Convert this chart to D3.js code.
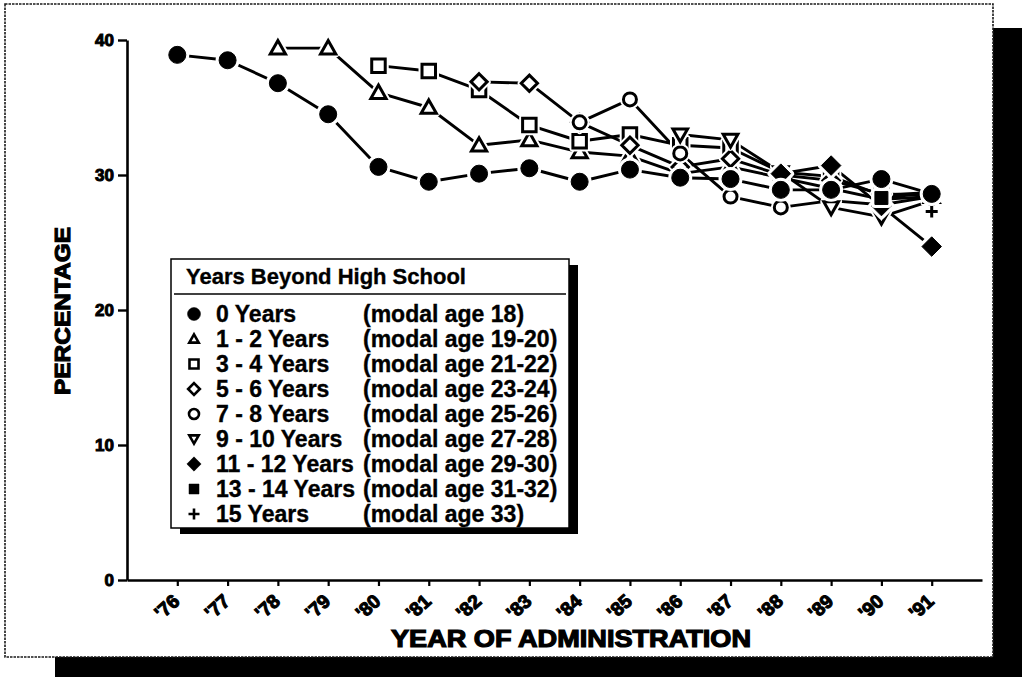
<!DOCTYPE html>
<html>
<head>
<meta charset="utf-8">
<script src="https://cdn.jsdelivr.net/npm/d3@7/dist/d3.min.js"></script>
<style>
  body { margin: 0; background: #fff; }
  svg { display: block; }
  .heavy { font-family: "Liberation Sans", Arial, sans-serif; font-weight: bold; fill: #000; stroke: #000; paint-order: stroke; }
  .legend text { font-family: "Liberation Sans", Arial, sans-serif; font-weight: bold; fill: #000; stroke: #000; stroke-width: 0.35; }
</style>
</head>
<body>
<svg id="chart" width="1022" height="677"></svg>
<script>
// ---- data -------------------------------------------------------------
const years = [1976, 1977, 1978, 1979, 1980, 1981, 1982, 1983, 1984, 1985, 1986, 1987, 1988, 1989, 1990, 1991];
const yearLabels = ["'76", "'77", "'78", "'79", "'80", "'81", "'82", "'83", "'84", "'85", "'86", "'87", "'88", "'89", "'90", "'91"];
const yTicks = [0, 10, 20, 30, 40];

const seriesNames = ["0 Years", "1 - 2 Years", "3 - 4 Years", "5 - 6 Years", "7 - 8 Years",
                     "9 - 10 Years", "11 - 12 Years", "13 - 14 Years", "15 Years"];
const modalAges = ["(modal age 18)", "(modal age 19-20)", "(modal age 21-22)", "(modal age 23-24)",
                   "(modal age 25-26)", "(modal age 27-28)", "(modal age 29-30)", "(modal age 31-32)",
                   "(modal age 33)"];
const firstYears = [1976, 1978, 1980, 1982, 1984, 1986, 1988, 1990, 1991];

// percentages, one per year from each series' first year through 1991
const zeroYears             = [38.9, 38.5, 36.8, 34.5, 30.6, 29.5, 30.1, 30.5, 29.5, 30.4, 29.8, 29.7, 28.9, 28.9, 29.7, 28.6];
const oneTwoYears           = [39.4, 39.4, 36.1, 35.0, 32.2, 32.6, 31.7, 31.4, 30.1, 30.6, 29.8, 29.0, 28.2, 28.4];
const threeFourYears        = [38.1, 37.7, 36.3, 33.7, 32.5, 33.0, 32.2, 32.0, 30.2, 29.9, 28.5, 28.7];
const fiveSixYears          = [36.9, 36.8, 33.9, 32.2, 30.6, 31.2, 30.0, 29.6, 28.6, 28.5];
const sevenEightYears       = [33.9, 35.6, 31.6, 28.4, 27.6, 28.1, 27.8, 28.4];
const nineTenYears          = [33.0, 32.6, 30.2, 27.6, 26.9, 28.1];
const elevenTwelveYears     = [30.1, 30.7, 27.7, 24.7];
const thirteenFourteenYears = [28.3, 28.7];
const fifteenYears          = [27.3];

const seriesValues = [zeroYears, oneTwoYears, threeFourYears, fiveSixYears, sevenEightYears,
                      nineTenYears, elevenTwelveYears, thirteenFourteenYears, fifteenYears];
const markerKinds = ["dot", "triUp", "square", "diamond", "ring", "triDown", "diamondFill", "squareFill", "plus"];

// ---- marker shapes ----------------------------------------------------
function markerPath(kind, s) {
  const h = s / 2;
  switch (kind) {
    case "dot":
    case "ring": {
      const r = h;
      return `M${-r},0A${r},${r} 0 1,0 ${r},0A${r},${r} 0 1,0 ${-r},0Z`;
    }
    case "triUp":   return `M0,${-h * 1.05}L${h * 1.05},${h * 0.8}L${-h * 1.05},${h * 0.8}Z`;
    case "triDown": return `M0,${h * 1.05}L${h * 1.05},${-h * 0.8}L${-h * 1.05},${-h * 0.8}Z`;
    case "square":
    case "squareFill": return `M${-h},${-h}H${h}V${h}H${-h}Z`;
    case "diamond":
    case "diamondFill": return `M0,${-h * 1.3}L${h * 1.3},0L0,${h * 1.3}L${-h * 1.3},0Z`;
    case "plus": return `M${-h},0H${h}M0,${-h}V${h}`;
  }
}
const filledKinds = new Set(["dot", "diamondFill", "squareFill"]);
const plotSize = { dot: 17, triUp: 14.5, square: 13.5, diamond: 12.5, ring: 13, triDown: 14, diamondFill: 15, squareFill: 13, plus: 12 };

// ---- frame ------------------------------------------------------------
const svg = d3.select("#chart");
svg.append("rect").attr("x", 993).attr("y", 28).attr("width", 29).attr("height", 649).attr("fill", "#000");
svg.append("rect").attr("x", 55).attr("y", 657).attr("width", 967).attr("height", 20).attr("fill", "#000");
svg.append("rect").attr("x", 5).attr("y", 4).attr("width", 988).attr("height", 653)
  .attr("fill", "#fff").attr("stroke", "#1a1a1a").attr("stroke-width", 1.6).attr("stroke-dasharray", "2.5,1");

// ---- scales & axes ----------------------------------------------------
const x = d3.scaleLinear().domain([1975, 1992]).range([127, 982]);
const y = d3.scaleLinear().domain([0, 40]).range([580, 40]);

const yAxis = svg.append("g").attr("transform", `translate(${x(1975)},0)`)
  .call(d3.axisLeft(y).tickValues(yTicks).tickSize(9).tickSizeOuter(0).tickPadding(4).tickFormat(d3.format("d")));
yAxis.select(".domain").attr("stroke", "#000").attr("stroke-width", 2.6);
yAxis.selectAll(".tick line").attr("stroke", "#000").attr("stroke-width", 2.4);
yAxis.selectAll(".tick text").attr("class", "heavy").attr("font-size", 17).attr("stroke-width", 1);

const xAxis = svg.append("g").attr("transform", `translate(0,${y(0)})`)
  .call(d3.axisBottom(x).tickValues(years).tickSize(6).tickSizeOuter(0).tickFormat((d, i) => yearLabels[i]));
xAxis.select(".domain").attr("stroke", "#000").attr("stroke-width", 2.4);
xAxis.selectAll(".tick line").attr("stroke", "#000").attr("stroke-width", 2.2);
xAxis.selectAll(".tick text")
  .attr("class", "heavy").attr("font-size", 19).attr("stroke-width", 1.1)
  .attr("text-anchor", "end").attr("y", 0).attr("dy", 0)
  .attr("transform", "translate(3,23) rotate(-42)");

svg.append("text").attr("class", "heavy")
  .attr("x", 571).attr("y", 647).attr("text-anchor", "middle")
  .attr("font-size", 24).attr("stroke-width", 1.2)
  .attr("textLength", 360).attr("lengthAdjust", "spacingAndGlyphs")
  .text("YEAR OF ADMINISTRATION");

svg.append("text").attr("class", "heavy")
  .attr("transform", "translate(70,311) rotate(-90)").attr("text-anchor", "middle")
  .attr("font-size", 22).attr("stroke-width", 1.1)
  .attr("textLength", 168).attr("lengthAdjust", "spacingAndGlyphs")
  .text("PERCENTAGE");

// ---- series -----------------------------------------------------------
const series = seriesValues.map((vals, i) => ({
  kind: markerKinds[i],
  points: vals.map((v, j) => ({ year: firstYears[i] + j, value: v }))
}));

const line = d3.line().x(d => x(d.year)).y(d => y(d.value));
const plot = svg.append("g");
plot.selectAll("path.series").data(series.filter(s => s.points.length > 1)).join("path")
  .attr("class", "series").attr("d", s => line(s.points))
  .attr("fill", "none").attr("stroke", "#000").attr("stroke-width", 2.9).attr("stroke-linejoin", "round");

// markers: each gets a white halo so lines stop short of it; 0 Years drawn last
const drawOrder = [1, 2, 3, 4, 5, 6, 7, 8, 0];
drawOrder.forEach(i => {
  const s = series[i];
  const size = plotSize[s.kind];
  const d = markerPath(s.kind, size);
  const g = plot.append("g");
  const pts = g.selectAll("g").data(s.points).join("g")
    .attr("transform", p => `translate(${x(p.year)},${y(p.value)})`);
  pts.append("path").attr("d", d).attr("fill", "#fff").attr("stroke", "#fff")
    .attr("stroke-width", s.kind === "plus" ? 8 : 7).attr("stroke-linejoin", "round");
  pts.append("path").attr("d", d)
    .attr("fill", filledKinds.has(s.kind) ? "#000" : (s.kind === "plus" ? "none" : "#fff"))
    .attr("stroke", "#000").attr("stroke-width", filledKinds.has(s.kind) ? 1 : 3)
    .attr("stroke-linejoin", "miter");
});

// ---- legend -----------------------------------------------------------
const lg = svg.append("g").attr("class", "legend");
const lgX = 171, lgY = 259, lgW = 398, rowH = 25, firstRow = 314;
const lgH = firstRow + rowH * (seriesNames.length - 1) + 14 - lgY;
lg.append("rect").attr("x", lgX + 9).attr("y", lgY + 6).attr("width", lgW).attr("height", lgH).attr("fill", "#000");
lg.append("rect").attr("x", lgX).attr("y", lgY).attr("width", lgW).attr("height", lgH)
  .attr("fill", "#fff").attr("stroke", "#000").attr("stroke-width", 1.5);
lg.append("text").attr("x", 186).attr("y", 284).attr("font-size", 22).text("Years Beyond High School");
lg.append("line").attr("x1", lgX + 3).attr("x2", lgX + lgW - 3).attr("y1", 294).attr("y2", 294)
  .attr("stroke", "#000").attr("stroke-width", 1.4);

const legendSize = { dot: 13, triUp: 9, square: 9, diamond: 9, ring: 10, triDown: 9, diamondFill: 11, squareFill: 10, plus: 11 };
const rows = lg.selectAll("g.row").data(seriesNames).join("g").attr("class", "row")
  .attr("transform", (d, i) => `translate(0,${firstRow + i * rowH})`);
rows.append("path")
  .attr("transform", "translate(194,0)")
  .attr("d", (d, i) => markerPath(markerKinds[i], legendSize[markerKinds[i]]))
  .attr("fill", (d, i) => filledKinds.has(markerKinds[i]) ? "#000" : "none")
  .attr("stroke", "#000").attr("stroke-width", (d, i) => filledKinds.has(markerKinds[i]) ? 0.5 : 2.6);
rows.append("text").attr("x", 216).attr("y", 8).attr("font-size", 23).text(d => d);
rows.append("text").attr("x", 363).attr("y", 8).attr("font-size", 23).text((d, i) => modalAges[i]);
</script>
</body>
</html>
